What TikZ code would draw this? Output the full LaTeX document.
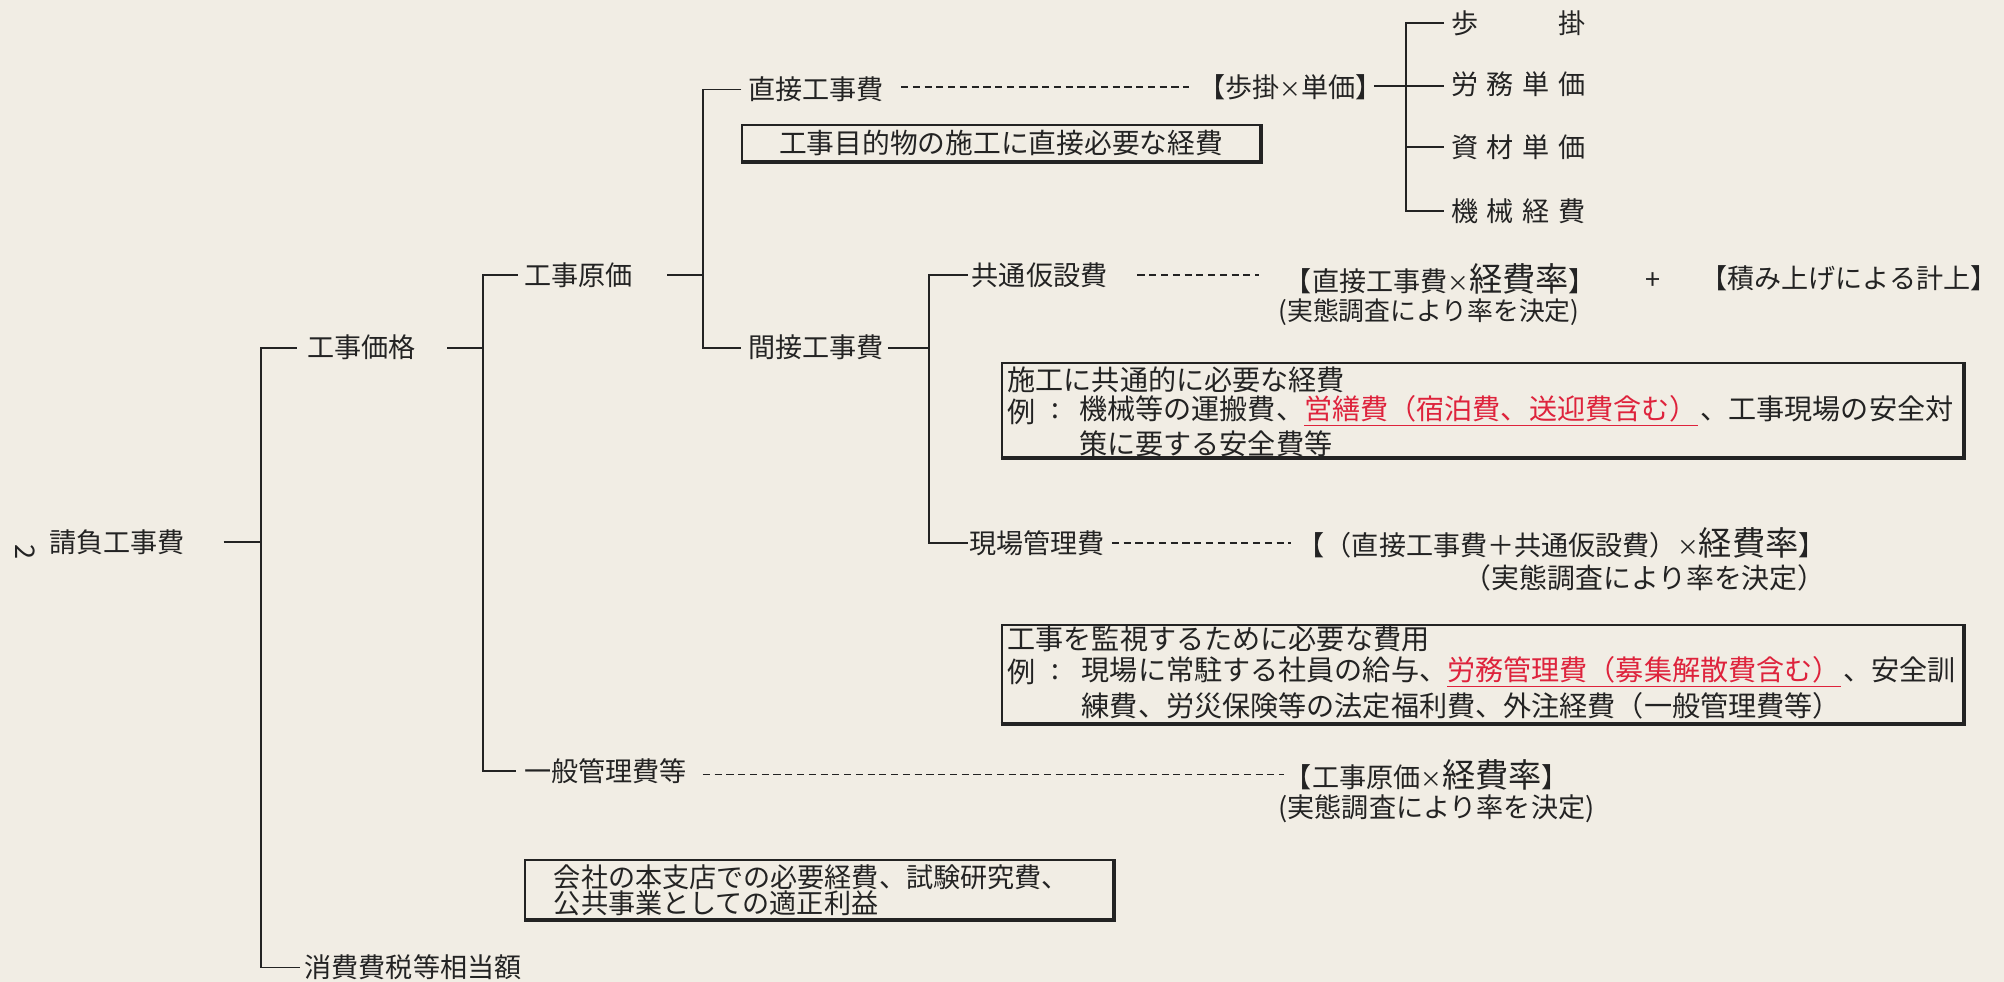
\documentclass[tikz,border=0pt]{standalone}
\usepackage{fontspec}
\setmainfont{Noto Sans CJK JP}
\definecolor{paper}{RGB}{241,237,228}
\definecolor{ink}{RGB}{35,35,35}
\definecolor{redtxt}{RGB}{222,35,60}
\newcommand{\redul}[1]{\textcolor{redtxt}{\underline{#1}}}
\newcommand{\bigk}[1]{{\fontsize{13}{14}\selectfont #1}}
\newcommand{\smx}{{\fontsize{8.5}{10}\selectfont ×}}
\begin{document}
\begin{tikzpicture}[x=0.5pt,y=-0.5pt,
  lbl/.style={inner sep=0pt, anchor=west, text=ink, font=\fontsize{10.6}{12}\selectfont},
  note/.style={lbl, font=\fontsize{10.9}{12}\selectfont},
  btxt/.style={lbl, font=\fontsize{11}{12}\selectfont},
  ln/.style={draw=ink, line width=0.7pt},
  dl/.style={draw=ink, line width=0.7pt, dash pattern=on 2.8pt off 1.8pt},
  boxr/.style={draw=ink, line width=0.8pt, inner sep=0pt, anchor=north west},
  shade/.style={draw=ink, line width=1.4pt}]
\fill[paper] (0,0) rectangle (1568,768);
\useasboundingbox (0,0) rectangle (1568,768);

% page number
\node[lbl, anchor=center, rotate=-90] (pg) at (20,432) {2};

% level 0/1
\node[lbl] (root) at (38,424) {請負工事費};
\node[lbl] (kakaku) at (240,272) {工事価格};
\node[lbl] (shohi) at (238,757) {消費費税等相当額};
\coordinate (r0) at (175,424);
\coordinate (bus0t) at (204,272);
\coordinate (bus0b) at (204,757);
\draw[ln] (r0) -- (r0 -| bus0t);
\draw[ln] (232,272) -- (bus0t) -- (bus0b) -- (235,757);

% level 2
\node[lbl] (genka) at (410,215) {工事原価};
\node[lbl] (ippan) at (410,603) {一般管理費等};
\coordinate (bus1t) at (378,215);
\coordinate (bus1b) at (378,603);
\draw[ln] (350,272) -- (bus1t |- 0,272);
\draw[ln] (405,215) -- (bus1t) -- (bus1b) -- (404,603);

% level 3
\node[lbl] (choku) at (585,70) {直接工事費};
\node[lbl] (kan) at (585,272) {間接工事費};
\coordinate (bus2t) at (550,70);
\coordinate (bus2b) at (550,272);
\draw[ln] (522,215) -- (bus2t |- 0,215);
\draw[ln] (580,70) -- (bus2t) -- (bus2b) -- (580,272);

% direct cost branch
\node[lbl] (bukake) at (937,68) {【歩掛\smx 単価】};
\draw[dl] (705,68) -- (930,68);
\coordinate (bus3t) at (1100,18);
\coordinate (bus3b) at (1100,165);
\draw[ln] (1075,67) -- (1130,67);
\draw[ln] (1130,18) -- (bus3t) -- (bus3b) -- (1130,165);
\draw[ln] (1100,115) -- (1130,115);
\node[lbl] (s1) at (1135,18) {\makebox[52.5pt][l]{歩\hfill 掛}};
\node[lbl] (s2) at (1135,66) {\makebox[52.5pt][l]{労\hfill 務\hfill 単\hfill 価}};
\node[lbl] (s3) at (1135,115) {\makebox[52.5pt][l]{資\hfill 材\hfill 単\hfill 価}};
\node[lbl] (s4) at (1135,165) {\makebox[52.5pt][l]{機\hfill 械\hfill 経\hfill 費}};
\node[boxr, minimum width=202.5pt, minimum height=14pt] (box1) at (580,97) {};
\draw[shade] (box1.south west) -- (box1.south east) -- (box1.north east);
\node[lbl, anchor=center, font=\fontsize{10.85}{12}\selectfont] (box1t) at (box1.center) {工事目的物の施工に直接必要な経費};

% indirect cost branch
\coordinate (bus4t) at (727,215);
\coordinate (bus4b) at (727,425);
\draw[ln] (695,272) -- (bus4t |- 0,272);
\draw[ln] (757,215) -- (bus4t) -- (bus4b) -- (757,425);
\node[lbl] (kyotsu) at (760,215) {共通仮設費};
\draw[dl] (890,215) -- (985,215);
\node[lbl] (f1) at (1005,218) {【直接工事費\smx\bigk{経費率}】};
\node[lbl] (plus) at (1287,220) {+};
\node[lbl] (tsumi) at (1330,218) {【積み上げによる計上】};
\node[lbl, font=\fontsize{10.1}{12}\selectfont] (n1) at (1000,244) {(実態調査により率を決定)};

\node[boxr, minimum width=376pt, minimum height=37pt] (box2) at (783,283) {};
\draw[shade] (box2.south west) -- (box2.south east) -- (box2.north east);
\node[btxt] (b2a) at (788,297) {施工に共通的に必要な経費};
\node[btxt] (b2b) at (788,322) {例};
\node[btxt, anchor=center] (b2c) at (826,322) {:};
\node[btxt] (b2d) at (844,322) {機械等の運搬費、\redul{営繕費（宿泊費、送迎費含む）}\hspace{1pt}、工事現場の安全対};
\node[btxt] (b2e) at (844,347) {策に要する安全費等};

\node[lbl] (genba) at (758,425) {現場管理費};
\draw[dl] (870,425) -- (1010,425);
\node[lbl] (f2) at (1015,425) {【（直接工事費＋共通仮設費）\smx\bigk{経費率}】};
\node[note] (n2) at (1145,452) {（実態調査により率を決定）};

\node[boxr, minimum width=376pt, minimum height=38.5pt] (box3) at (783,488) {};
\draw[shade] (box3.south west) -- (box3.south east) -- (box3.north east);
\node[btxt] (b3a) at (788,500) {工事を監視するために必要な費用};
\node[btxt] (b3b) at (788,526) {例};
\node[btxt, anchor=center] (b3c) at (826,526) {:};
\node[btxt] (b3d) at (846,526) {現場に常駐する社員の給与、\redul{労務管理費（募集解散費含む）}\hspace{1pt}、安全訓};
\node[btxt] (b3e) at (846,552) {練費、労災保険等の法定福利費、外注経費（一般管理費等）};

% general admin
\draw[dl] (550,606) -- (1005,606);
\node[lbl] (f3) at (1005,606) {【工事原価\smx\bigk{経費率}】};
\node[lbl] (n3) at (1000,633) {(実態調査により率を決定)};

\node[boxr, minimum width=230pt, minimum height=23pt] (box4) at (410,672) {};
\draw[shade] (box4.south west) -- (box4.south east) -- (box4.north east);
\node[lbl] (b4a) at (433,686) {会社の本支店での必要経費、試験研究費、};
\node[lbl] (b4b) at (433,707) {公共事業としての適正利益};
\end{tikzpicture}
\end{document}
